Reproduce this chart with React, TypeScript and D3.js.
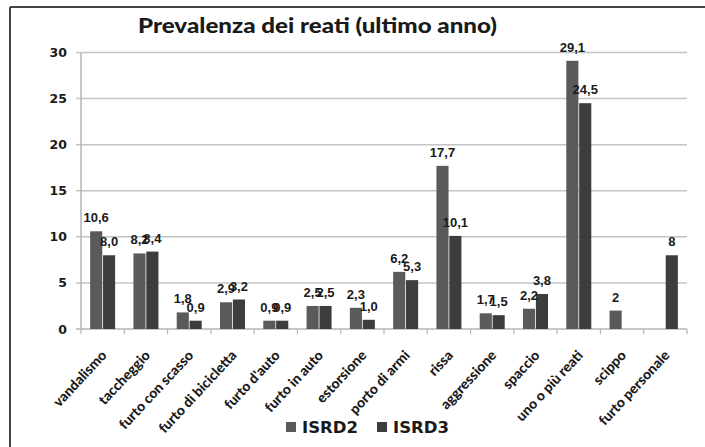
import React from "react";
import * as d3 from "d3";

const categories = [
  "vandalismo",
  "taccheggio",
  "furto con scasso",
  "furto di bicicletta",
  "furto d'auto",
  "furto in auto",
  "estorsione",
  "porto di armi",
  "rissa",
  "aggressione",
  "spaccio",
  "uno o più reati",
  "scippo",
  "furto personale",
];
const isrd2: (number | null)[] = [10.6, 8.2, 1.8, 2.9, 0.9, 2.5, 2.3, 6.2, 17.7, 1.7, 2.2, 29.1, 2, null];
const isrd3: (number | null)[] = [8.0, 8.4, 0.9, 3.2, 0.9, 2.5, 1.0, 5.3, 10.1, 1.5, 3.8, 24.5, null, 8];
const labelDecimals = [1, 1, 1, 1, 1, 1, 1, 1, 1, 1, 1, 1, 0, 0];
const seriesNames = ["ISRD2", "ISRD3"];
const seriesColors = ["#5a5a5a", "#3d3d3d"];
const yTicks = [0, 5, 10, 15, 20, 25, 30];
const title = "Prevalenza dei reati (ultimo anno)";

const W = 705;
const H = 447;
const plotLeft = 81;
const plotRight = 687;
const plotTop = 52.5;
const plotBottom = 329;

const fmt = (v: number, dec: number) => d3.format(`.${dec}f`)(v).replace(".", ",");

export default function App() {
  const x = d3.scaleBand<string>().domain(categories).range([plotLeft, plotRight]);
  const y = d3.scaleLinear().domain([0, 30]).range([plotBottom, plotTop]);
  const inner = d3.scaleBand<string>().domain(seriesNames).range([-12.5, 12.5]).paddingInner(0.06);
  const series = [isrd2, isrd3];
  const bw = x.bandwidth();
  const textColor = "#1a1a1a";

  return (
    <svg width={W} height={H} style={{ position: "absolute", left: 0, top: 0, background: "#fff" }}>
      {/* frame */}
      <line x1={10} y1={7} x2={W} y2={7} stroke="#444" strokeWidth={2} />
      <line x1={10} y1={7} x2={10} y2={H} stroke="#444" strokeWidth={2} />

      {/* title */}
      <text
        x={138}
        y={32.5}
        fontFamily="Lato, 'Open Sans', sans-serif"
        fontWeight={900}
        fontSize={21}
        fill={textColor}
        textLength={359}
        lengthAdjust="spacingAndGlyphs"
      >
        {title}
      </text>

      {/* gridlines */}
      {yTicks.filter((t) => t > 0).map((t) => (
        <line key={t} x1={plotLeft - 5} x2={plotRight} y1={y(t)} y2={y(t)} stroke="#c4c4c4" strokeWidth={1.5} />
      ))}
      {/* axes */}
      <line x1={plotLeft} x2={plotLeft} y1={plotTop} y2={plotBottom} stroke="#b5b5b5" strokeWidth={1.5} />
      <line x1={plotLeft - 5} x2={plotRight} y1={plotBottom} y2={plotBottom} stroke="#b5b5b5" strokeWidth={1.5} />
      {yTicks.map((t) => (
        <text
          key={t}
          x={67}
          y={y(t) + 4.5}
          textAnchor="end"
          fontFamily="'DejaVu Sans', sans-serif"
          fontWeight="bold"
          fontSize={12.5}
          fill={textColor}
        >
          {t}
        </text>
      ))}
      {/* x ticks */}
      {categories.map((c) => (
        <line key={c} x1={x(c)! + bw} x2={x(c)! + bw} y1={plotBottom} y2={plotBottom + 5} stroke="#b5b5b5" strokeWidth={1.2} />
      ))}
      <line x1={plotLeft} x2={plotLeft} y1={plotBottom} y2={plotBottom + 5} stroke="#b5b5b5" strokeWidth={1.2} />

      {/* bars */}
      {series.map((vals, si) =>
        vals.map((v, i) => {
          if (v == null) return null;
          const c = categories[i];
          const bx = x(c)! + bw / 2 + inner(seriesNames[si])!;
          return (
            <rect
              key={`${si}-${i}`}
              x={bx}
              y={y(v)}
              width={inner.bandwidth()}
              height={y(0) - y(v)}
              fill={seriesColors[si]}
            />
          );
        })
      )}

      {/* data labels */}
      {series.map((vals, si) =>
        vals.map((v, i) => {
          if (v == null) return null;
          const c = categories[i];
          const cx = x(c)! + bw / 2 + inner(seriesNames[si])! + inner.bandwidth() / 2;
          return (
            <text
              key={`l${si}-${i}`}
              x={cx}
              y={y(v) - 9}
              textAnchor="middle"
              fontFamily="'Liberation Sans', Arial, sans-serif"
              fontWeight="bold"
              fontSize={13}
              fill={textColor}
            >
              {fmt(v, labelDecimals[i])}
            </text>
          );
        })
      )}

      {/* category labels */}
      {categories.map((c) => {
        const cx = x(c)! + bw / 2;
        return (
          <text
            key={`c-${c}`}
            transform={`translate(${cx + 5},${plotBottom + 27}) rotate(-47)`}
            textAnchor="end"
            fontFamily="Lato, 'Open Sans', sans-serif"
            fontWeight={900}
            fontSize={14}
            fill={textColor}
          >
            {c}
          </text>
        );
      })}

      {/* legend */}
      {seriesNames.map((s, si) => {
        const lx = si === 0 ? 286 : 377;
        return (
          <g key={s}>
            <rect x={lx} y={422} width={10} height={10} fill={seriesColors[si]} />
            <text
              x={lx + 16}
              y={432.5}
              fontFamily="'DejaVu Sans', sans-serif"
              fontWeight="bold"
              fontSize={15}
              fill={textColor}
              textLength={56}
              lengthAdjust="spacingAndGlyphs"
            >
              {s}
            </text>
          </g>
        );
      })}
    </svg>
  );
}
